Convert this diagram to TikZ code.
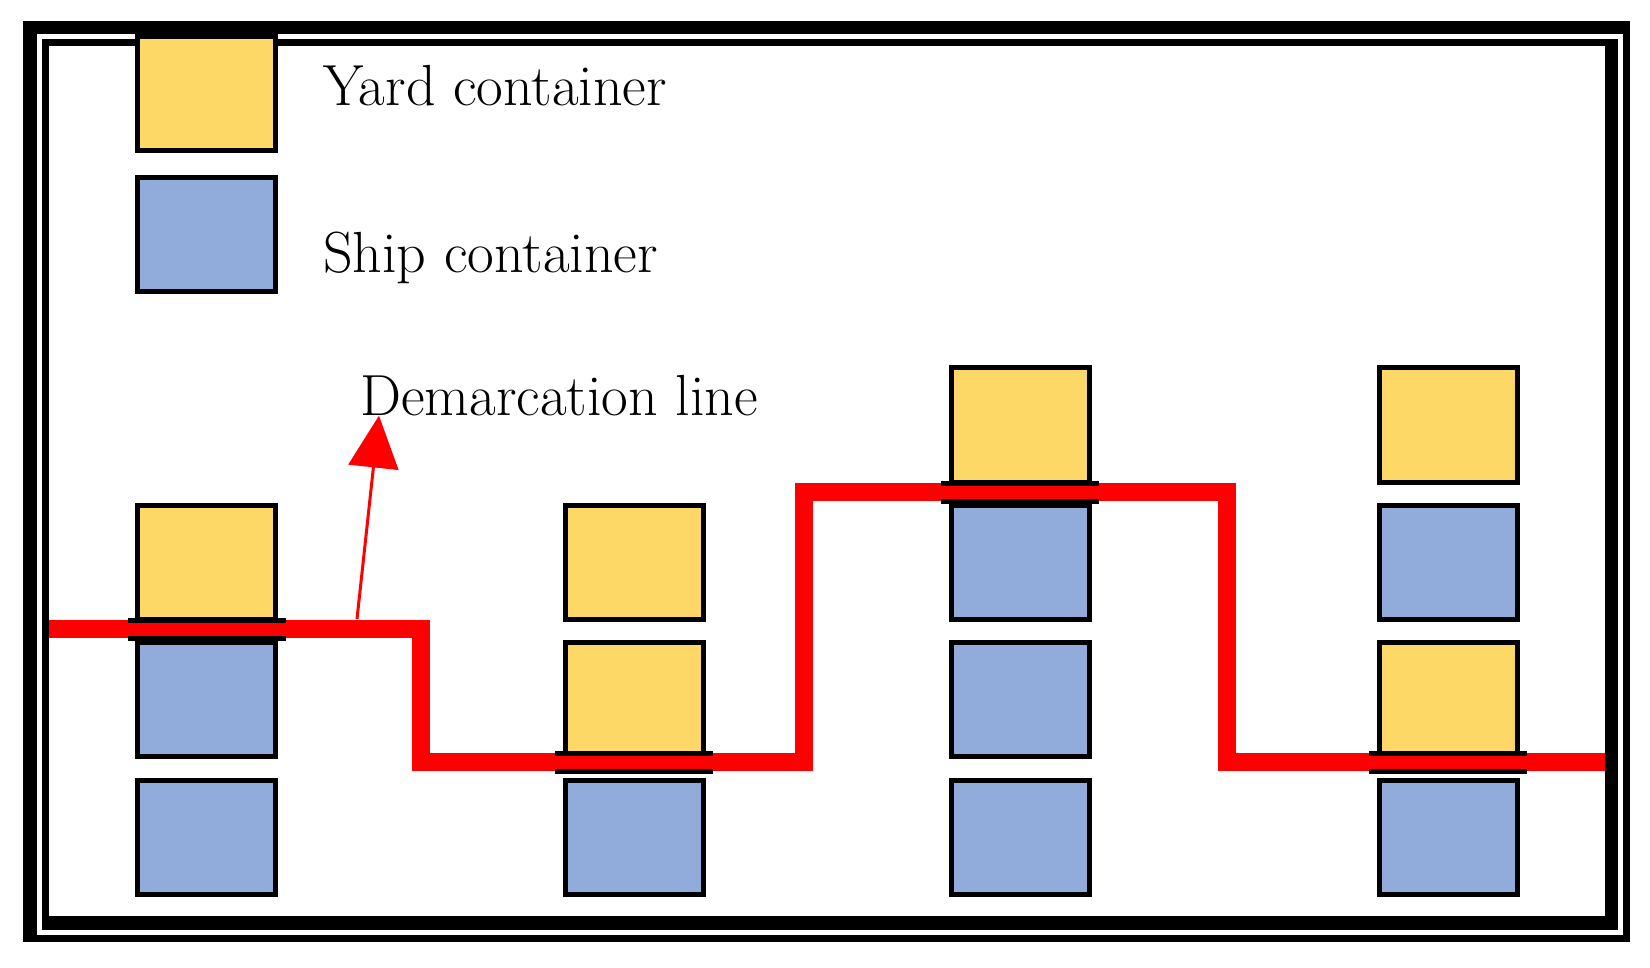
\documentclass[tikz,border=0pt]{standalone}
\usetikzlibrary{arrows.meta}
\definecolor{yard}{HTML}{FDD866}
\definecolor{ship}{HTML}{91ABDB}
\begin{document}
\begin{tikzpicture}[x=1pt,y=-1pt,
  box/.style={draw=black,line width=5pt,inner sep=0pt,minimum width=138pt,minimum height=114pt},
  yb/.style={box,fill=yard},
  sb/.style={box,fill=ship},
  lbl/.style={anchor=base west,inner sep=0pt,font=\fontsize{58}{60}\selectfont},
  bar/.style={line width=5pt}]
\useasboundingbox (0,0) rectangle (1650,968);
% frame
\fill (23,21) rectangle (1630,34);
\fill (23,21) rectangle (37,942);
\fill (23,935) rectangle (1630,942);
\fill (1623,21) rectangle (1630,942);
\fill (42,39) rectangle (1618,46);
\fill (42,39) rectangle (49,930);
\fill (42,916) rectangle (1618,930);
\fill (1605,39) rectangle (1618,930);
% legend
\node[yb] (ly) at (206.5,93.5) {};
\node[sb] (ls) at (206.5,234.5) {};
\node[lbl] (ty) at (323,106) {Yard container};
\node[lbl] (ts) at (323,273) {Ship container};
\node[lbl] (td) at (360,415) {Demarcation line};
% columns
\node[yb] (a2) at (206.5,562) {};
\node[sb] (a3) at (206.5,699.5) {};
\node[sb] (a4) at (206.5,837) {};
\node[yb] (b2) at (634,562) {};
\node[yb] (b3) at (634,699.5) {};
\node[sb] (b4) at (634,837) {};
\node[yb] (c1) at (1020,425) {};
\node[sb] (c2) at (1020,562) {};
\node[sb] (c3) at (1020,699.5) {};
\node[sb] (c4) at (1020,837) {};
\node[yb] (d1) at (1448,425) {};
\node[sb] (d2) at (1448,562) {};
\node[yb] (d3) at (1448,699.5) {};
\node[sb] (d4) at (1448,837) {};
% demarcation line
\coordinate (s) at (49,629);
\coordinate (e) at (1605,762);
\draw[red,line width=18pt] (s) -- (421,629) -- (421,762) -- (804,762) -- (804,492) -- (1227,492) -- (1227,762) -- (e);
% bars
\foreach \x/\y in {206.5/629,634/762,1020/492,1448/762}{
  \draw[bar] (\x-79,\y-9) -- (\x+79,\y-9);
  \draw[bar] (\x-79,\y+9) -- (\x+79,\y+9);
}
% arrow
\coordinate (as) at (357,619);
\draw[red,line width=3pt,-{Triangle[length=52pt,width=50pt]}] (as) -- (td.south west -| 379,453);
\end{tikzpicture}
\end{document}
